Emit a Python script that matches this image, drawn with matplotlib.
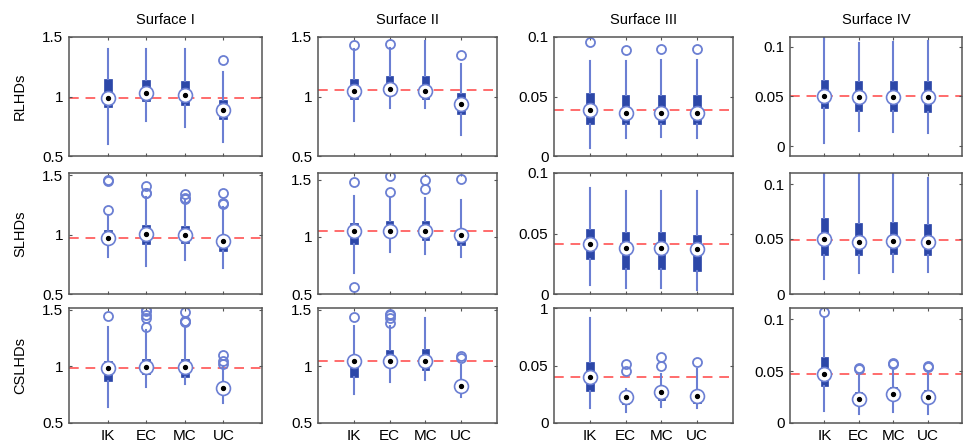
#!/usr/bin/env python
import matplotlib
matplotlib.use("Agg")
import matplotlib.pyplot as plt

plt.rcParams['font.family'] = ['Liberation Sans', 'DejaVu Sans']

methods = ["IK", "EC", "MC", "UC"]
surfaces = ["Surface I", "Surface II", "Surface III", "Surface IV"]
designs = ["RLHDs", "SLHDs", "CSLHDs"]

# each box: [whisker low, q1, median, q3, whisker high]
# ---- RLHDs
rl_s1 = [[0.60, 0.91, 0.99, 1.15, 1.40], [0.79, 0.96, 1.03, 1.14, 1.40],
         [0.74, 0.93, 1.01, 1.13, 1.40], [0.62, 0.81, 0.89, 0.97, 1.21]]
rl_s1_out = [[], [], [], [1.31]]
rl_s2 = [[0.79, 0.98, 1.05, 1.15, 1.40], [0.90, 1.01, 1.06, 1.17, 1.41],
         [0.90, 0.98, 1.05, 1.17, 1.47], [0.68, 0.85, 0.94, 1.03, 1.27]]
rl_s2_out = [[1.43], [1.445], [], [1.345]]
rl_s3 = [[0.007, 0.027, 0.039, 0.053, 0.080], [0.015, 0.027, 0.036, 0.051, 0.080],
         [0.016, 0.027, 0.036, 0.051, 0.081], [0.015, 0.027, 0.036, 0.051, 0.081]]
rl_s3_out = [[0.096], [0.089], [0.0895], [0.090]]
rl_s4 = [[0.003, 0.038, 0.050, 0.067, 0.120], [0.015, 0.035, 0.049, 0.066, 0.104],
         [0.014, 0.035, 0.049, 0.066, 0.105], [0.013, 0.034, 0.049, 0.066, 0.106]]
rl_s4_out = [[], [], [], []]
# ---- SLHDs
sl_s1 = [[0.81, 0.92, 0.975, 1.04, 1.17], [0.74, 0.92, 1.01, 1.08, 1.32],
         [0.79, 0.93, 1.00, 1.07, 1.29], [0.72, 0.86, 0.95, 1.00, 1.23]]
sl_s1_out = [[1.46, 1.455, 1.21], [1.41, 1.355, 1.355], [1.345, 1.31, 1.30], [1.35, 1.27, 1.26]]
sl_s2 = [[0.68, 0.94, 1.05, 1.12, 1.36], [0.87, 1.00, 1.055, 1.14, 1.34],
         [0.85, 0.97, 1.05, 1.14, 1.345], [0.82, 0.925, 1.02, 1.07, 1.325]]
sl_s2_out = [[1.48, 0.56], [1.53, 1.39], [1.50, 1.42], [1.51]]
sl_s3 = [[0.0075, 0.029, 0.0414, 0.0536, 0.0875], [0.005, 0.021, 0.038, 0.051, 0.085],
         [0.005, 0.021, 0.038, 0.051, 0.085], [0.003, 0.019, 0.037, 0.049, 0.085]]
sl_s3_out = [[], [], [], []]
sl_s4 = [[0.0137, 0.0354, 0.0500, 0.0688, 0.120], [0.0187, 0.0354, 0.0475, 0.0643, 0.120],
         [0.0196, 0.036, 0.048, 0.0652, 0.120], [0.0196, 0.0354, 0.0475, 0.0637, 0.1054]]
sl_s4_out = [[], [], [], []]
# ---- CSLHDs
cs_s1 = [[0.64, 0.87, 0.985, 1.05, 1.35], [0.82, 0.93, 0.99, 1.065, 1.32],
         [0.84, 0.91, 0.99, 1.065, 1.35], [0.68, 0.78, 0.81, 0.85, 1.00]]
cs_s1_out = [[1.44], [1.50, 1.485, 1.456, 1.426, 1.35], [1.476, 1.40, 1.39, 1.40], [1.10, 1.045, 1.02]]
cs_s2 = [[0.76, 0.91, 1.045, 1.10, 1.36], [0.86, 1.005, 1.05, 1.14, 1.36],
         [0.88, 0.97, 1.05, 1.15, 1.425], [0.73, 0.81, 0.83, 0.88, 1.015]]
cs_s2_out = [[1.435], [1.465, 1.45, 1.43, 1.38], [], [1.088, 1.074]]
cs_s3 = [[0.0127, 0.0275, 0.0400, 0.0533, 0.091], [0.0098, 0.0166, 0.0225, 0.026, 0.030],
         [0.0142, 0.020, 0.0266, 0.0296, 0.0423], [0.0127, 0.0172, 0.0237, 0.0266, 0.0467]]
cs_s3_out = [[], [0.051, 0.0453], [0.057, 0.050], [0.0533]]
cs_s4 = [[0.0113, 0.0357, 0.0473, 0.064, 0.101], [0.0083, 0.020, 0.0233, 0.030, 0.0477],
         [0.011, 0.0233, 0.0277, 0.035, 0.0517], [0.009, 0.021, 0.025, 0.0317, 0.049]]
cs_s4_out = [[0.107], [0.0533, 0.052], [0.0583, 0.0573], [0.055, 0.0537]]

true_vals = [[0.99, 1.055, 0.039, 0.050],
             [0.975, 1.05, 0.0414, 0.049],
             [0.985, 1.045, 0.040, 0.047]]

boxes = [[rl_s1, rl_s2, rl_s3, rl_s4], [sl_s1, sl_s2, sl_s3, sl_s4], [cs_s1, cs_s2, cs_s3, cs_s4]]
outs = [[rl_s1_out, rl_s2_out, rl_s3_out, rl_s4_out],
        [sl_s1_out, sl_s2_out, sl_s3_out, sl_s4_out],
        [cs_s1_out, cs_s2_out, cs_s3_out, cs_s4_out]]

ylims = [[(0.5, 1.5), (0.5, 1.5), (0, 0.1), (-0.01, 0.11)],
         [(0.5, 1.52), (0.5, 1.56), (0, 0.1), (0, 0.11)],
         [(0.5, 1.515), (0.5, 1.515), (0, 0.1), (0, 0.111)]]
yticks = [[0.5, 1, 1.5], [0.5, 1, 1.5], [0, 0.05, 0.1], [0, 0.05, 0.1]]
ytick_labels = [["0.5", "1", "1.5"], ["0.5", "1", "1.5"], ["0", "0.05", "0.1"], ["0", "0.05", "0.1"]]

BOX = '#2c47a8'
WHISK = '#6b7fd3'
RED = '#ff6b6b'
EDGE = '#555555'

W, H = 967, 443
fig = plt.figure(figsize=(W / 100, H / 100), dpi=100)

cols_px = [(69, 262), (318, 497), (554, 733), (790, 962)]
rows_px = [(37, 156), (173, 294), (308, 423)]
pos = [1, 2, 3, 4]

for r in range(3):
    for c in range(4):
        x0, x1 = cols_px[c]
        y0, y1 = rows_px[r]
        ax = fig.add_axes([x0 / W, 1 - y1 / H, (x1 - x0) / W, (y1 - y0) / H])
        stats = []
        for b, o in zip(boxes[r][c], outs[r][c]):
            stats.append(dict(whislo=b[0], q1=b[1], med=b[2], q3=b[3], whishi=b[4], fliers=o))
        ax.axhline(true_vals[r][c], color=RED, ls=(0, (5, 3.5)), lw=1.4, zorder=1)
        ax.bxp(stats, positions=pos, widths=0.21, patch_artist=True, showcaps=False,
               boxprops=dict(facecolor=BOX, edgecolor=BOX, lw=0.5),
               whiskerprops=dict(color=WHISK, lw=1.5),
               medianprops=dict(visible=False),
               flierprops=dict(marker='o', mfc='none', mec=WHISK, mew=1.3, ms=6.5),
               manage_ticks=False, zorder=2)
        meds = [b[2] for b in boxes[r][c]]
        ax.plot(pos, meds, 'o', ms=10, mfc='white', mec=WHISK, mew=1.2, ls='none', zorder=4)
        ax.plot(pos, meds, 'o', ms=2.8, color='black', ls='none', zorder=5)

        ax.set_xlim(0, 5)
        ax.set_ylim(*ylims[r][c])
        ax.set_yticks(yticks[c])
        # the reference prints "1" instead of "0.1" on this panel
        ax.set_yticklabels(ytick_labels[c] if not (r == 2 and c == 2) else ["0", "0.05", "1"])
        ax.set_xticks(pos)
        if r == 2:
            ax.set_xticklabels(methods, fontsize=11)
        else:
            ax.set_xticklabels([])
        ax.tick_params(direction='in', top=True, right=True, length=2.5, width=0.8,
                       colors=EDGE, labelcolor='black', labelsize=11, pad=4)
        for s in ax.spines.values():
            s.set_color(EDGE)
            s.set_linewidth(1.1)
        if r == 0:
            ax.set_title(surfaces[c], fontsize=10.5, pad=9)

for r in range(3):
    y0, y1 = rows_px[r]
    fig.text(20 / W, 1 - (y0 + y1) / 2 / H, designs[r], rotation=90,
             ha='center', va='center', fontsize=10.5)

fig.savefig("out.png", dpi=100)
